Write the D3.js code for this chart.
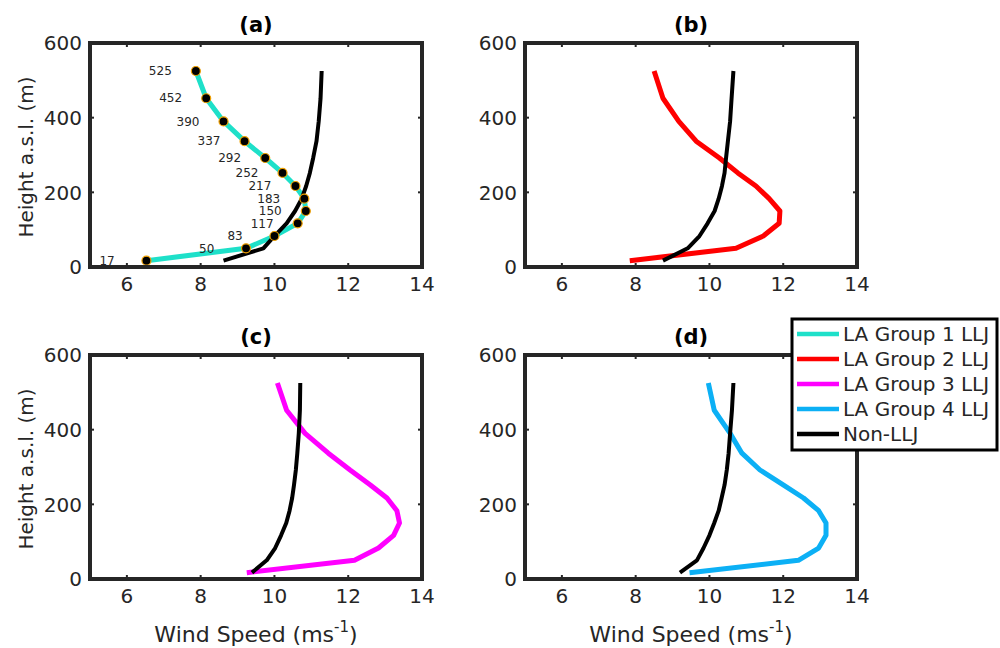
<!DOCTYPE html>
<html><head><meta charset="utf-8">
<script src="https://cdn.jsdelivr.net/npm/d3@7"></script>
<style>body{margin:0;background:#fff}svg{display:block}text{font-family:"DejaVu Sans",sans-serif}</style>
</head><body><svg id="c" width="1000" height="648"></svg>
<script>
const heights = [17, 50, 83, 117, 150, 183, 217, 252, 292, 337, 390, 452, 525];
const group1 = [6.53, 9.23, 10.0, 10.63, 10.85, 10.81, 10.57, 10.22, 9.75, 9.19, 8.62, 8.15, 7.87];
const nonLLJ1 = [8.62, 9.70, 10.0, 10.33, 10.56, 10.74, 10.86, 10.96, 11.05, 11.14, 11.20, 11.25, 11.28];
const group2 = [7.84, 10.72, 11.46, 11.89, 11.91, 11.62, 11.26, 10.77, 10.27, 9.64, 9.17, 8.74, 8.50];
const nonLLJ2 = [8.74, 9.41, 9.73, 9.95, 10.14, 10.25, 10.34, 10.41, 10.45, 10.50, 10.56, 10.60, 10.65];
const group3 = [9.25, 12.17, 12.82, 13.23, 13.39, 13.32, 13.05, 12.60, 12.05, 11.46, 10.83, 10.33, 10.08];
const nonLLJ3 = [9.39, 9.79, 10.02, 10.18, 10.32, 10.41, 10.48, 10.53, 10.58, 10.62, 10.66, 10.69, 10.70];
const group4 = [9.46, 12.41, 12.96, 13.16, 13.16, 12.96, 12.55, 12.00, 11.37, 10.88, 10.56, 10.13, 9.97];
const nonLLJ4 = [9.20, 9.66, 9.84, 10.00, 10.13, 10.25, 10.33, 10.41, 10.47, 10.52, 10.56, 10.61, 10.65];
const panelTitles = ["(a)", "(b)", "(c)", "(d)"];
const xTicks = [6, 8, 10, 12, 14];
const yTicks = [0, 200, 400, 600];
const legendLabels = ["LA Group 1 LLJ", "LA Group 2 LLJ", "LA Group 3 LLJ", "LA Group 4 LLJ", "Non-LLJ"];
const colors = ["#1ee0c9", "#ff0000", "#ff00ff", "#0cb0f5", "#000000"];

const groups = [group1, group2, group3, group4];
const nonLLJ = [nonLLJ1, nonLLJ2, nonLLJ3, nonLLJ4];
const svg = d3.select("#c");
const ink = "#262626";
const W = 332, H = 224;
const lefts = [90, 525], tops = [43, 355];

panelTitles.forEach((title, i) => {
  const col = i % 2, row = Math.floor(i / 2);
  const L = lefts[col], T = tops[row];
  const x = d3.scaleLinear().domain([5, 14]).range([L, L + W]);
  const y = d3.scaleLinear().domain([0, 600]).range([T + H, T]);
  const g = svg.append("g");

  const line = d3.line().x(d => x(d[0])).y(d => y(d[1]));
  const gData = groups[i].map((v, k) => [v, heights[k]]);
  const nData = nonLLJ[i].map((v, k) => [v, heights[k]]);
  g.append("path").attr("d", line(gData)).attr("fill", "none")
    .attr("stroke", colors[i]).attr("stroke-width", 5).attr("stroke-linejoin", "round");
  g.append("path").attr("d", line(nData)).attr("fill", "none")
    .attr("stroke", "#000").attr("stroke-width", 4).attr("stroke-linejoin", "round");

  if (i === 0) {
    g.selectAll("circle.m").data(gData).join("circle")
      .attr("cx", d => x(d[0])).attr("cy", d => y(d[1])).attr("r", 4.5)
      .attr("fill", "#000").attr("stroke", "#f0a000").attr("stroke-width", 1.2);
    g.selectAll("text.lbl").data(gData).join("text")
      .attr("x", d => x(d[0]) - 47).attr("y", d => y(d[1]))
      .attr("dy", "0.35em").attr("font-size", 12).attr("fill", ink)
      .text(d => d[1]);
  }

  g.append("rect").attr("x", L).attr("y", T).attr("width", W).attr("height", H)
    .attr("fill", "none").attr("stroke", ink).attr("stroke-width", 4);
  xTicks.forEach(t => {
    g.append("line").attr("x1", x(t)).attr("x2", x(t)).attr("y1", T + H).attr("y2", T + H - 4)
      .attr("stroke", ink).attr("stroke-width", 2);
    g.append("line").attr("x1", x(t)).attr("x2", x(t)).attr("y1", T).attr("y2", T + 4)
      .attr("stroke", ink).attr("stroke-width", 2);
    g.append("text").attr("x", x(t)).attr("y", T + H + 24).attr("text-anchor", "middle")
      .attr("font-size", 20).attr("fill", ink).text(t);
  });
  yTicks.forEach(t => {
    g.append("line").attr("x1", L).attr("x2", L + 4).attr("y1", y(t)).attr("y2", y(t))
      .attr("stroke", ink).attr("stroke-width", 2);
    g.append("line").attr("x1", L + W).attr("x2", L + W - 4).attr("y1", y(t)).attr("y2", y(t))
      .attr("stroke", ink).attr("stroke-width", 2);
    g.append("text").attr("x", L - 8).attr("y", y(t)).attr("dy", "0.36em").attr("text-anchor", "end")
      .attr("font-size", 20).attr("fill", ink).text(t);
  });
  g.append("text").attr("x", L + W / 2).attr("y", T - 11).attr("text-anchor", "middle")
    .attr("font-size", 21).attr("font-weight", "bold").attr("fill", "#000").text(title);
  if (col === 0) {
    g.append("text").attr("transform", `translate(${L - 57},${T + H / 2 + 2}) rotate(-90)`)
      .attr("text-anchor", "middle").attr("font-size", 20).attr("fill", ink).text("Height a.s.l. (m)");
  }
  if (row === 1) {
    const t = g.append("text").attr("x", L + W / 2).attr("y", T + H + 63).attr("text-anchor", "middle")
      .attr("font-size", 22).attr("fill", ink);
    t.append("tspan").text("Wind Speed (ms");
    t.append("tspan").attr("font-size", 15).attr("dy", -10).text("-1");
    t.append("tspan").attr("dy", 10).text(")");
  }
});

const lg = svg.append("g");
lg.append("rect").attr("x", 792).attr("y", 319).attr("width", 205).attr("height", 131)
  .attr("fill", "#fff").attr("stroke", "#000").attr("stroke-width", 3);
legendLabels.forEach((lab, k) => {
  const yy = 334 + k * 25;
  lg.append("line").attr("x1", 797).attr("x2", 839).attr("y1", yy).attr("y2", yy)
    .attr("stroke", colors[k]).attr("stroke-width", 4.5);
  lg.append("text").attr("x", 843).attr("y", yy).attr("dy", "0.36em").attr("font-size", 20)
    .attr("fill", ink).text(lab);
});
</script></body></html>
